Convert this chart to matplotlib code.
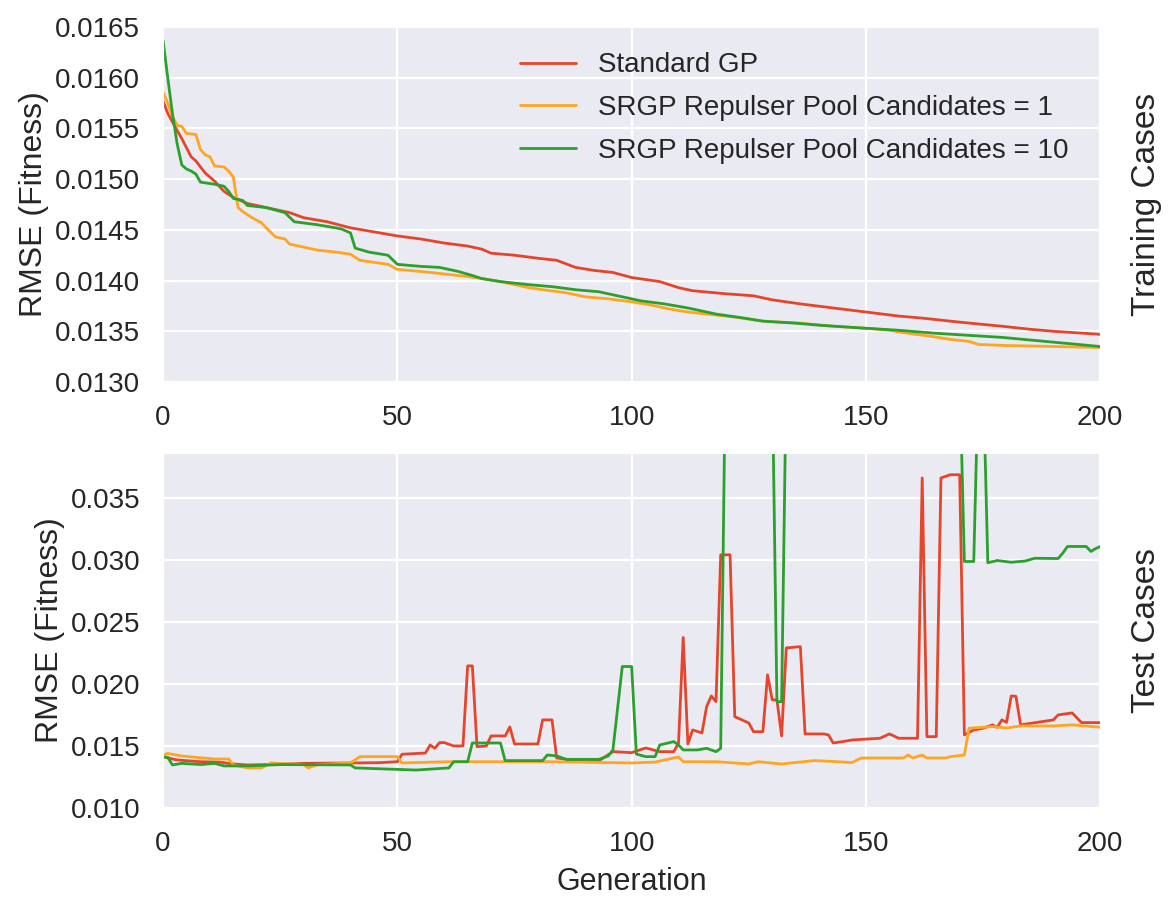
# RMSE per generation, training (top) and test (bottom) cases
import matplotlib
matplotlib.use('Agg')
import matplotlib.pyplot as plt
import seaborn as sns

sns.set_style('darkgrid')
plt.rcParams['font.family'] = ['Liberation Sans', 'DejaVu Sans']

labels = ['Standard GP',
          'SRGP Repulser Pool Candidates = 1',
          'SRGP Repulser Pool Candidates = 10']
colors = ['#e6452b', '#ffa522', '#2ca02c']

# Training cases
train_gp_gen = [0, 1, 3, 4, 6, 7, 9, 11, 13, 15, 18, 22, 27, 30, 35, 40, 45, 50, 55, 60,
                65, 68, 70, 75, 80, 84, 88, 92, 96, 100, 106, 110, 113, 120, 126, 130,
                136, 143, 150, 157, 162, 170, 179, 185, 190, 200]
train_gp_rmse = [0.01577, 0.01565, 0.01548, 0.01540, 0.01522, 0.01518, 0.01506, 0.01498,
                 0.01488, 0.01482, 0.01476, 0.01472, 0.01467, 0.01462, 0.01458, 0.01452,
                 0.01448, 0.01444, 0.01441, 0.01437, 0.01434, 0.01431, 0.01427, 0.01425,
                 0.01422, 0.01420, 0.01413, 0.01410, 0.01408, 0.01403, 0.01399, 0.01393,
                 0.01390, 0.01387, 0.01385, 0.01381, 0.01377, 0.01373, 0.01369, 0.01365,
                 0.01363, 0.01359, 0.01355, 0.01352, 0.01350, 0.01347]

train_c1_gen = [0, 1, 2, 3, 4, 5, 7, 8, 9, 10, 11, 13, 14, 15, 16, 17, 19, 21, 22, 24,
                26, 27, 30, 33, 37, 40, 42, 45, 48, 50, 55, 61, 65, 68, 72, 78, 81, 86,
                90, 95, 100, 104, 108, 112, 118, 122, 128, 136, 143, 150, 155, 159, 164,
                168, 172, 174, 180, 190, 200]
train_c1_rmse = [0.01586, 0.01575, 0.01562, 0.01553, 0.01552, 0.01545, 0.01544, 0.01529,
                 0.01524, 0.01522, 0.01513, 0.01512, 0.01508, 0.01502, 0.01472, 0.01468,
                 0.01462, 0.01457, 0.01452, 0.01443, 0.01441, 0.01436, 0.01433, 0.01430,
                 0.01428, 0.01426, 0.01420, 0.01418, 0.01416, 0.01411, 0.01409, 0.01406,
                 0.01404, 0.01402, 0.01399, 0.01393, 0.01391, 0.01388, 0.01384, 0.01382,
                 0.01379, 0.01376, 0.01372, 0.01369, 0.01366, 0.01364, 0.01360, 0.01358,
                 0.01355, 0.01353, 0.01351, 0.01348, 0.01345, 0.01342, 0.01340, 0.01337,
                 0.01336, 0.01335, 0.01334]

train_c10_gen = [0, 1, 2, 3, 4, 5, 6, 7, 8, 11, 13, 14, 15, 17, 18, 22, 26, 28, 33, 38,
                 40, 41, 44, 48, 50, 55, 59, 63, 66, 68, 72, 78, 83, 88, 93, 98, 102,
                 107, 112, 118, 124, 128, 135, 140, 150, 157, 165, 172, 179, 186, 193, 200]
train_c10_rmse = [0.01637, 0.01600, 0.01565, 0.01535, 0.01514, 0.01510, 0.01508, 0.01505,
                  0.01497, 0.01495, 0.01493, 0.01488, 0.01481, 0.01479, 0.01474, 0.01472,
                  0.01467, 0.01458, 0.01455, 0.01451, 0.01447, 0.01432, 0.01428, 0.01425,
                  0.01416, 0.01414, 0.01413, 0.01409, 0.01405, 0.01402, 0.01399, 0.01396,
                  0.01394, 0.01391, 0.01389, 0.01384, 0.01380, 0.01377, 0.01373, 0.01367,
                  0.01363, 0.01360, 0.01358, 0.01356, 0.01353, 0.01351, 0.01348, 0.01346,
                  0.01344, 0.01341, 0.01338, 0.01335]

# Test cases
test_gp_gen = [0, 2, 3, 8, 12, 15, 18, 25, 30, 40, 46, 50, 51, 56, 57, 58, 59, 60, 62, 64,
               65, 66, 67, 69, 70, 72, 73, 74, 75, 80, 81, 83, 84, 90, 93, 96, 100, 103,
               106, 109, 110, 111, 112, 113, 115, 116, 117, 118, 119, 121, 122, 125, 126,
               128, 129, 130, 131, 132, 133, 136, 137, 141, 142, 143, 145, 147, 153, 155,
               157, 161, 162, 163, 165, 166, 168, 170, 171, 173, 175, 177, 178, 179, 180,
               181, 182, 183, 190, 191, 194, 196, 200]
test_gp_rmse = [0.01414, 0.01395, 0.01387, 0.01373, 0.01370, 0.01355, 0.01347, 0.01352,
                0.01360, 0.01363, 0.01365, 0.01373, 0.01433, 0.01443, 0.01508, 0.01481,
                0.01527, 0.01527, 0.01500, 0.01500, 0.02145, 0.02145, 0.01494, 0.01500,
                0.01581, 0.01581, 0.01580, 0.01653, 0.01516, 0.01516, 0.01710, 0.01710,
                0.01403, 0.01373, 0.01380, 0.01454, 0.01446, 0.01484, 0.01454, 0.01454,
                0.01524, 0.02374, 0.01516, 0.01629, 0.01605, 0.01817, 0.01903, 0.01857,
                0.03040, 0.03040, 0.01736, 0.01685, 0.01615, 0.01615, 0.02073, 0.01871,
                0.01871, 0.01581, 0.02290, 0.02300, 0.01597, 0.01597, 0.01589, 0.01524,
                0.01535, 0.01548, 0.01562, 0.01597, 0.01562, 0.01562, 0.03659, 0.01575,
                0.01575, 0.03659, 0.03685, 0.03685, 0.01589, 0.01629, 0.01643, 0.01670,
                0.01650, 0.01710, 0.01690, 0.01903, 0.01900, 0.01670, 0.01710, 0.01750,
                0.01766, 0.01688, 0.01688]

test_c1_gen = [0, 1, 4, 8, 11, 14, 15, 18, 21, 23, 30, 31, 33, 40, 42, 50, 51, 61, 82,
               100, 105, 107, 110, 111, 118, 125, 127, 132, 139, 143, 147, 149, 158, 159,
               160, 162, 163, 167, 168, 171, 172, 177, 180, 183, 190, 194, 200]
test_c1_rmse = [0.01427, 0.01440, 0.01419, 0.01405, 0.01395, 0.01395, 0.01347, 0.01323,
                0.01323, 0.01363, 0.01350, 0.01323, 0.01350, 0.01363, 0.01414, 0.01414,
                0.01363, 0.01373, 0.01373, 0.01363, 0.01370, 0.01387, 0.01411, 0.01373,
                0.01373, 0.01355, 0.01373, 0.01355, 0.01382, 0.01375, 0.01366, 0.01403,
                0.01403, 0.01427, 0.01403, 0.01427, 0.01403, 0.01403, 0.01414, 0.01427,
                0.01643, 0.01656, 0.01645, 0.01661, 0.01661, 0.01670, 0.01651]

# values above the visible range (0.045) are off the top of the axes
test_c10_gen = [0, 1, 2, 4, 8, 11, 13, 19, 25, 40, 41, 47, 54, 61, 62, 65, 66, 72, 73, 81,
                82, 84, 86, 93, 95, 96, 98, 100, 101, 103, 105, 106, 109, 110, 111, 114,
                116, 118, 119, 120, 130, 131, 132, 133, 170, 171, 173, 174, 175, 176, 178,
                181, 184, 186, 191, 192, 193, 197, 198, 199, 200]
test_c10_rmse = [0.01409, 0.01409, 0.01347, 0.01360, 0.01350, 0.01360, 0.01339, 0.01340,
                 0.01350, 0.01347, 0.01323, 0.01315, 0.01306, 0.01323, 0.01373, 0.01373,
                 0.01524, 0.01524, 0.01382, 0.01382, 0.01427, 0.01420, 0.01392, 0.01392,
                 0.01419, 0.01468, 0.02140, 0.02140, 0.01435, 0.01414, 0.01414, 0.01508,
                 0.01535, 0.01508, 0.01468, 0.01468, 0.01481, 0.01454, 0.01481, 0.04500,
                 0.04500, 0.01857, 0.01857, 0.04500, 0.04500, 0.02986, 0.02986, 0.04500,
                 0.04500, 0.02976, 0.02994, 0.02980, 0.02990, 0.03012, 0.03010, 0.03054,
                 0.03107, 0.03107, 0.03067, 0.03090, 0.03107]

train_yticks = [0.0130, 0.0135, 0.0140, 0.0145, 0.0150, 0.0155, 0.0160, 0.0165]
test_yticks = [0.010, 0.015, 0.020, 0.025, 0.030, 0.035]
xticks = [0, 50, 100, 150, 200]

fig, (ax1, ax2) = plt.subplots(2, 1, figsize=(11.73, 9), dpi=100)
fig.subplots_adjust(left=0.139, right=0.938, top=0.970, bottom=0.1022, hspace=0.2)

lw = 2.0
ax1.plot(train_gp_gen, train_gp_rmse, color=colors[0], lw=lw, label=labels[0])
ax1.plot(train_c1_gen, train_c1_rmse, color=colors[1], lw=lw, label=labels[1])
ax1.plot(train_c10_gen, train_c10_rmse, color=colors[2], lw=lw, label=labels[2])

ax2.plot(test_gp_gen, test_gp_rmse, color=colors[0], lw=lw)
ax2.plot(test_c1_gen, test_c1_rmse, color=colors[1], lw=lw)
ax2.plot(test_c10_gen, test_c10_rmse, color=colors[2], lw=lw)

ax1.set_xlim(0, 200)
ax1.set_ylim(0.0130, 0.0165)
ax1.set_yticks(train_yticks)
ax1.set_yticklabels(['%.4f' % v for v in train_yticks])
ax2.set_xlim(0, 200)
ax2.set_ylim(0.010, 0.0386)
ax2.set_yticks(test_yticks)
ax2.set_yticklabels(['%.3f' % v for v in test_yticks])

for ax, side in [(ax1, 'Training Cases'), (ax2, 'Test Cases')]:
    ax.set_xticks(xticks)
    ax.tick_params(labelsize=20, colors='.15', pad=13)
    ax.grid(color='white', linewidth=1.6)
    ax.set_ylabel('RMSE (Fitness)', fontsize=23, color='.15')
    ax.text(1.033, 0.5, side, transform=ax.transAxes, rotation=90,
            ha='left', va='center', fontsize=24, color='.15')

ax2.set_xlabel('Generation', fontsize=22, color='.15', labelpad=7)

ax1.legend(loc='upper left', bbox_to_anchor=(0.369, 0.96), borderaxespad=0,
           fontsize=20, frameon=False, labelspacing=0.6)

plt.savefig('out.png', dpi=100)
